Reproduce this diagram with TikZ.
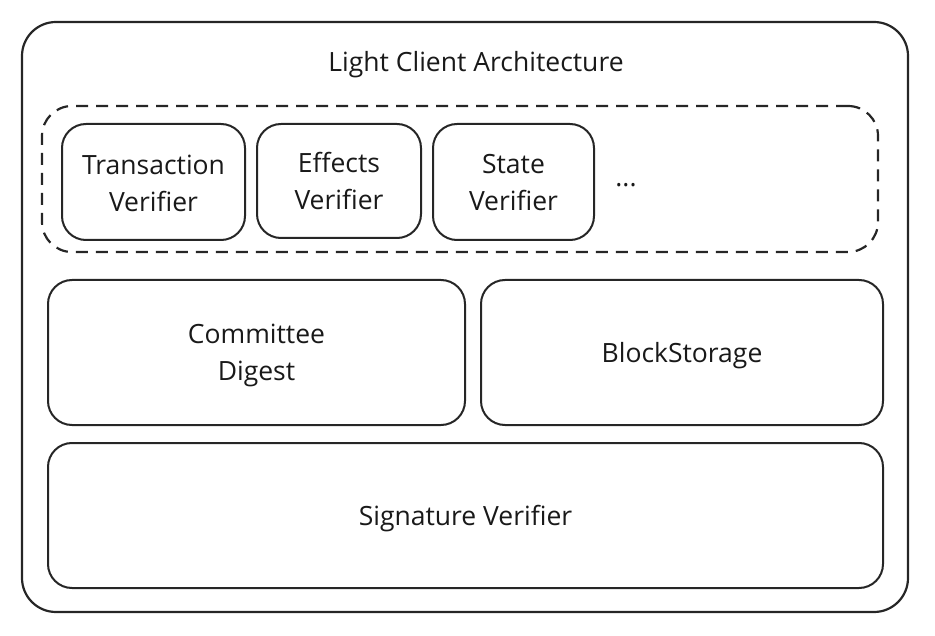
\documentclass[tikz,border=0pt]{standalone}
\usepackage{fontspec}
\setmainfont{Open Sans}
\begin{document}
\begin{tikzpicture}[x=1pt,y=-1pt,
  box/.style 2 args={draw=black!85, line width=2pt, rounded corners=24pt, inner sep=0pt,
    label={[align=center, inner sep=0pt, yshift=#2, font=\fontsize{26.5}{37}\selectfont, text=black!90]center:#1}},
  outerbox/.style={draw=black!85, line width=2.2pt, rounded corners=34pt, inner sep=0pt},
  groupbox/.style={draw=black!85, line width=2.2pt, dashed, dash pattern=on 12pt off 8pt, rounded corners=30pt, inner sep=0pt},
  lbl/.style={font=\fontsize{26.5}{37}\selectfont, inner sep=0pt, text=black!90}]
\useasboundingbox (0,0) rectangle (935,636);
\node[outerbox, minimum width=886pt, minimum height=590pt] (outer) at (465,317) {};
\node[lbl] (title) at (476,65) {Light Client Architecture};
\node[groupbox, minimum width=836pt, minimum height=146pt] (group) at (460,179) {};
\node[box={Transaction\\Verifier}{-1pt}, minimum width=183pt, minimum height=116pt] (tx) at (153.5,182) {};
\node[box={Effects\\Verifier}{0pt}, minimum width=164pt, minimum height=114pt] (fx) at (339,181) {};
\node[box={State\\Verifier}{-1pt}, minimum width=161pt, minimum height=116pt] (st) at (513.5,182) {};
\node[lbl] (dots) at (626,185) {...};
\node[box={Committee\\Digest}{-3pt}, minimum width=417pt, minimum height=145pt] (cd) at (256.5,352.5) {};
\node[box={BlockStorage}{-3pt}, minimum width=402pt, minimum height=145pt] (bs) at (682,352.5) {};
\node[box={Signature Verifier}{-3pt}, minimum width=835pt, minimum height=145pt] (sv) at (465.5,515.5) {};
\end{tikzpicture}
\end{document}
